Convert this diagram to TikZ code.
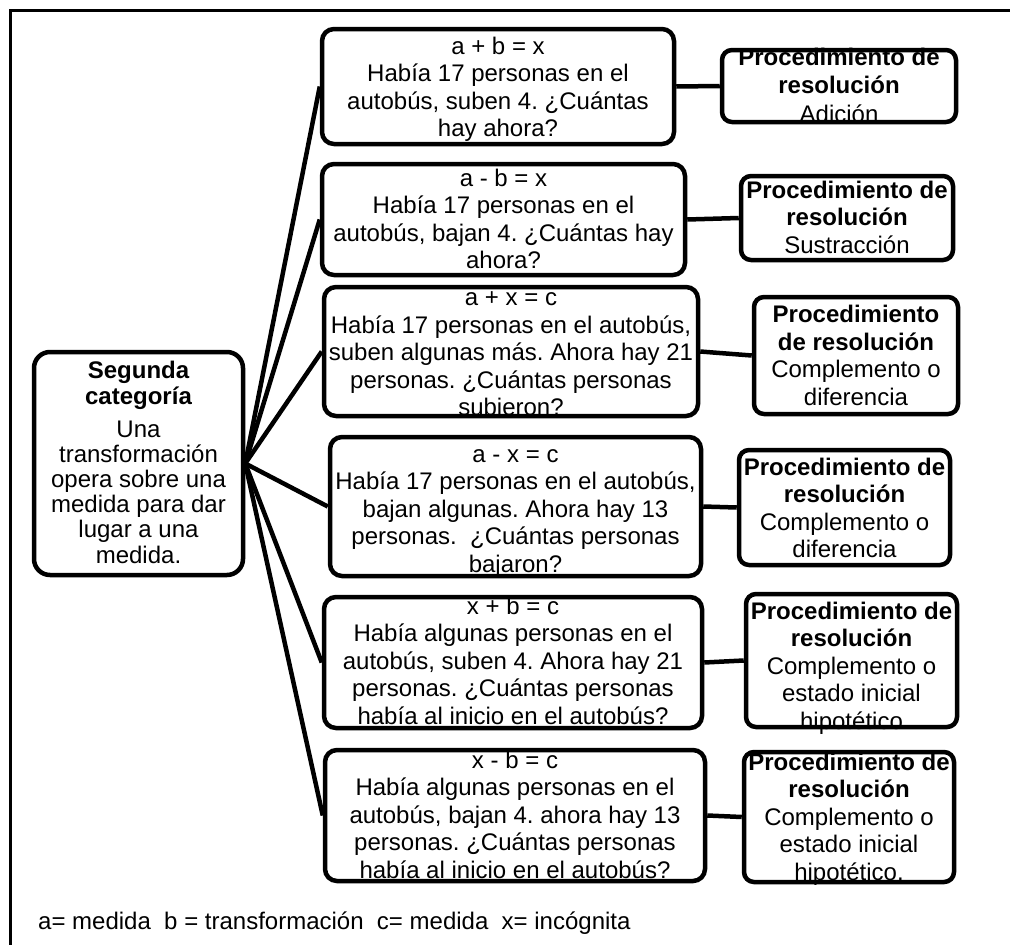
\documentclass[tikz,border=0pt]{standalone}
\usepackage{fontspec}
\setmainfont{Liberation Sans}
\usetikzlibrary{backgrounds}
\frenchspacing
\begin{document}
\begin{tikzpicture}[x=1pt,y=-1pt,
  box/.style={draw, line width=4.5pt, rounded corners=12pt, inner sep=0pt},
  proc/.style={draw, line width=4.5pt, rounded corners=10pt, inner sep=0pt},
  txt/.style={inner sep=0pt, align=center, anchor=base, font=\fontsize{24}{27.5}\selectfont},
  link/.style={line width=4.5pt}]
\useasboundingbox (0,0) rectangle (1010,945);
% outer frame
\draw[line width=3pt] (10,945) -- (10,10) -- (1010,10);

% central category box
\node[box, rounded corners=16pt, minimum width=209pt, minimum height=223pt] (seg) at (138.5,463.5) {};

% problem boxes
\node[box, minimum width=352pt, minimum height=115pt] (b1) at (498,86.5) {};
\node[box, minimum width=363pt, minimum height=111pt] (b2) at (503.5,219.5) {};
\node[box, minimum width=374pt, minimum height=129pt] (b3) at (511,351.5) {};
\node[box, minimum width=371pt, minimum height=139pt] (b4) at (515.5,506.5) {};
\node[box, minimum width=378pt, minimum height=131pt] (b5) at (513,662.5) {};
\node[box, minimum width=380pt, minimum height=131pt] (b6) at (515,815.5) {};

% procedure boxes
\node[proc, minimum width=234pt, minimum height=72pt] (p1) at (839,86) {};
\node[proc, minimum width=212pt, minimum height=84pt] (p2) at (847,218) {};
\node[proc, minimum width=204pt, minimum height=117pt] (p3) at (856,355.5) {};
\node[proc, minimum width=211pt, minimum height=115pt] (p4) at (844.5,507.5) {};
\node[proc, minimum width=211pt, minimum height=133pt] (p5) at (851.5,660.5) {};
\node[proc, minimum width=210pt, minimum height=130pt] (p6) at (849,817) {};

% texts (drawn beneath the borders); each node sits on the baseline of its last line
\begin{pgfonlayer}{background}
\node[txt, font=\fontsize{24}{26}\selectfont\bfseries] (segt) at (138.5,404) {Segunda\\categoría};
\node[txt, font=\fontsize{24}{25.2}\selectfont] (segd) at (138.5,563) {Una\\transformación\\opera sobre una\\medida para dar\\lugar a una\\medida.};

\node[txt] (t1) at (498,136.5) {a + b = x\\Había 17 personas en el\\autobús, suben 4. ¿Cuántas\\hay ahora?};
\node[txt] (t2) at (503.5,268.5) {a - b = x\\Había 17 personas en el\\autobús, bajan 4. ¿Cuántas hay\\ahora?};
\node[txt] (t3) at (511,415.5) {a + x = c\\Había 17 personas en el autobús,\\suben algunas más. Ahora hay 21\\personas. ¿Cuántas personas\\subieron?};
\node[txt] (t4) at (515.5,572) {a - x = c\\Había 17 personas en el autobús,\\bajan algunas. Ahora hay 13\\personas. \ ¿Cuántas personas\\bajaron?};
\node[txt] (t5) at (513,724) {x + b = c\\Había algunas personas en el\\autobús, suben 4. Ahora hay 21\\personas. ¿Cuántas personas\\había al inicio en el autobús?};
\node[txt] (t6) at (515,878) {x - b = c\\Había algunas personas en el\\autobús, bajan 4. ahora hay 13\\personas. ¿Cuántas personas\\había al inicio en el autobús?};

\node[txt, font=\fontsize{24}{28.5}\selectfont] (q1) at (839,122) {\textbf{Procedimiento de}\\\textbf{resolución}\\Adición};
\node[txt] (q2) at (847,253) {\textbf{Procedimiento de}\\\textbf{resolución}\\Sustracción};
\node[txt] (q3) at (856,405) {\textbf{Procedimiento}\\\textbf{de resolución}\\Complemento o\\diferencia};
\node[txt] (q4) at (844.5,557.5) {\textbf{Procedimiento de}\\\textbf{resolución}\\Complemento o\\diferencia};
\node[txt] (q5) at (851.5,729) {\textbf{Procedimiento de}\\\textbf{resolución}\\Complemento o\\estado inicial\\hipotético};
\node[txt] (q6) at (849,880) {\textbf{Procedimiento de}\\\textbf{resolución}\\Complemento o\\estado inicial\\hipotético.};
\end{pgfonlayer}

% connectors
\foreach \i in {1,...,6} {
  \draw[link] (seg.east) -- (b\i.west);
  \draw[link] (b\i.east) -- (p\i.west);
}

% legend
\node[txt, anchor=base west] (legend) at (38,929) {a= medida \ b = transformación \ c= medida \ x= incógnita};
\end{tikzpicture}
\end{document}
